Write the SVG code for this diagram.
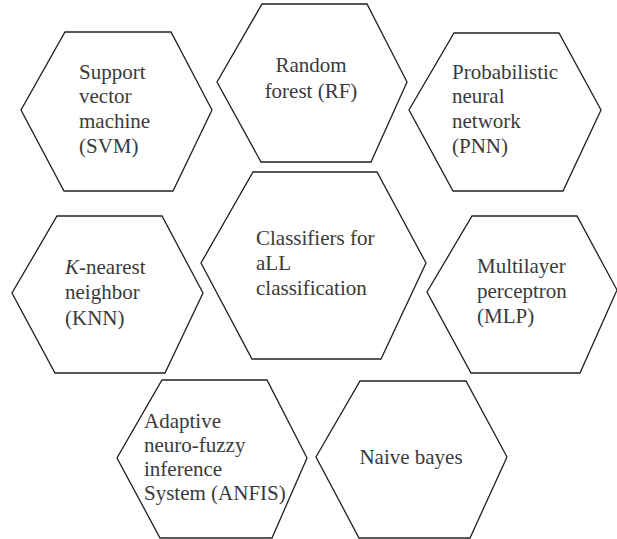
<svg xmlns="http://www.w3.org/2000/svg" width="617" height="539" viewBox="0 0 617 539">
<style>
.hex{fill:#fff;stroke:#231f20;stroke-width:1.3;stroke-linejoin:miter}
.t{font-family:"Liberation Serif","Times New Roman",serif;font-size:21px;fill:#3a3a3a}
.c{text-anchor:middle}
</style>
<rect width="617" height="539" fill="#fff"/>
<g id="connectors"></g>
<g id="svm">
<polygon class="hex" points="65,32 171,32 212,110 173,191 64,191 21,110"/>
<text class="t" x="79" y="79">Support</text>
<text class="t" x="79" y="103">vector</text>
<text class="t" x="79" y="128">machine</text>
<text class="t" x="79" y="153">(SVM)</text>
</g>
<g id="rf">
<polygon class="hex" points="262,4 367,4 407,82 371,162 261,162 217,82"/>
<text class="t c" x="311" y="72">Random</text>
<text class="t c" x="311" y="98">forest (RF)</text>
</g>
<g id="pnn">
<polygon class="hex" points="454,33 559,33 601,110 563,191 453,191 409,110"/>
<text class="t" x="452" y="79">Probabilistic</text>
<text class="t" x="452" y="103">neural</text>
<text class="t" x="452" y="128">network</text>
<text class="t" x="452" y="153">(PNN)</text>
</g>
<g id="knn">
<polygon class="hex" points="57,216 162,216 203,293 165,373 55,373 12,293"/>
<text class="t" x="65" y="274"><tspan font-style="italic">K</tspan>-nearest</text>
<text class="t" x="65" y="299">neighbor</text>
<text class="t" x="65" y="325">(KNN)</text>
</g>
<g id="center">
<polygon class="hex" points="253,172 377,172 426,263 381,359 252,359 201,263"/>
<text class="t" x="256" y="245">Classifiers for</text>
<text class="t" x="256" y="270">aLL</text>
<text class="t" x="256" y="295">classification</text>
</g>
<g id="mlp">
<polygon class="hex" points="472,216 577,216 617,290 580,373 471,373 427,292"/>
<text class="t" x="477" y="273">Multilayer</text>
<text class="t" x="477" y="298">perceptron</text>
<text class="t" x="477" y="323">(MLP)</text>
</g>
<g id="anfis">
<polygon class="hex" points="162,380 267,380 307,458 272,538 160,538 117,458"/>
<text class="t" x="144" y="428">Adaptive</text>
<text class="t" x="144" y="452">neuro-fuzzy</text>
<text class="t" x="144" y="476">inference</text>
<text class="t" x="144" y="500">System (ANFIS)</text>
</g>
<g id="naive">
<polygon class="hex" points="360,381 466,381 507,457 470,538 359,538 316,457"/>
<text class="t c" x="411" y="464">Naive bayes</text>
</g>
</svg>
